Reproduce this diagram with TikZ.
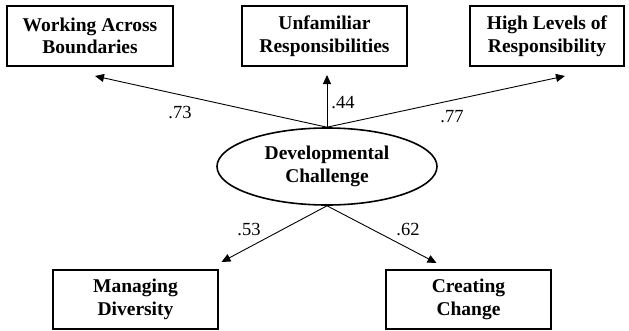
\documentclass[tikz,border=0pt]{standalone}
\usepackage{fontspec}
\setmainfont{Liberation Serif}
\usetikzlibrary{arrows.meta,shapes.geometric}
\begin{document}
\begin{tikzpicture}[x=1pt,y=-1pt,
  obsbox/.style={draw, line width=1.8pt, minimum height=60pt, inner sep=0pt,
    align=center, font=\bfseries\fontsize{19.5}{22.5}\selectfont},
  latent/.style={draw, ellipse, line width=1.6pt, minimum width=220pt,
    minimum height=77pt, inner sep=0pt, align=center,
    font=\bfseries\fontsize{19.5}{22.5}\selectfont},
  path/.style={line width=0.9pt, -{Triangle[length=9pt,width=8pt]}},
  lab/.style={inner sep=0pt, font=\fontsize{18.5}{21}\selectfont}]
\useasboundingbox (0,0) rectangle (629,330);
\node[obsbox, minimum width=166pt] (wab) at (90,36) {Working Across\\Boundaries};
\node[obsbox, minimum width=165pt] (ur) at (324.5,36) {Unfamiliar\\Responsibilities};
\node[obsbox, minimum width=154pt] (hlr) at (547,36) {High Levels of\\Responsibility};
\node[obsbox, minimum width=165pt, minimum height=59pt] (md) at (135.5,299.5) {Managing\\Diversity};
\node[obsbox, minimum width=165pt, minimum height=59pt] (cc) at (468.5,299.5) {Creating\\Change};
\node[latent] (dc) at (327,166.5) {Developmental\\Challenge};
\coordinate (twab) at (95,76);
\coordinate (tur) at (327,75);
\coordinate (thlr) at (565,76);
\coordinate (tmd) at (221.5,262);
\coordinate (tcc) at (436.5,263);
\draw[path] (dc.north) -- (twab);
\draw[path] (dc.north) -- (tur);
\draw[path] (dc.north) -- (thlr);
\draw[path] (dc.south) -- (tmd);
\draw[path] (dc.south) -- (tcc);
\node[lab] (l73) at (180,113) {.73};
\node[lab] (l44) at (343,103) {.44};
\node[lab] (l77) at (452,117) {.77};
\node[lab] (l53) at (249,230) {.53};
\node[lab] (l62) at (408,230) {.62};
\end{tikzpicture}
\end{document}
